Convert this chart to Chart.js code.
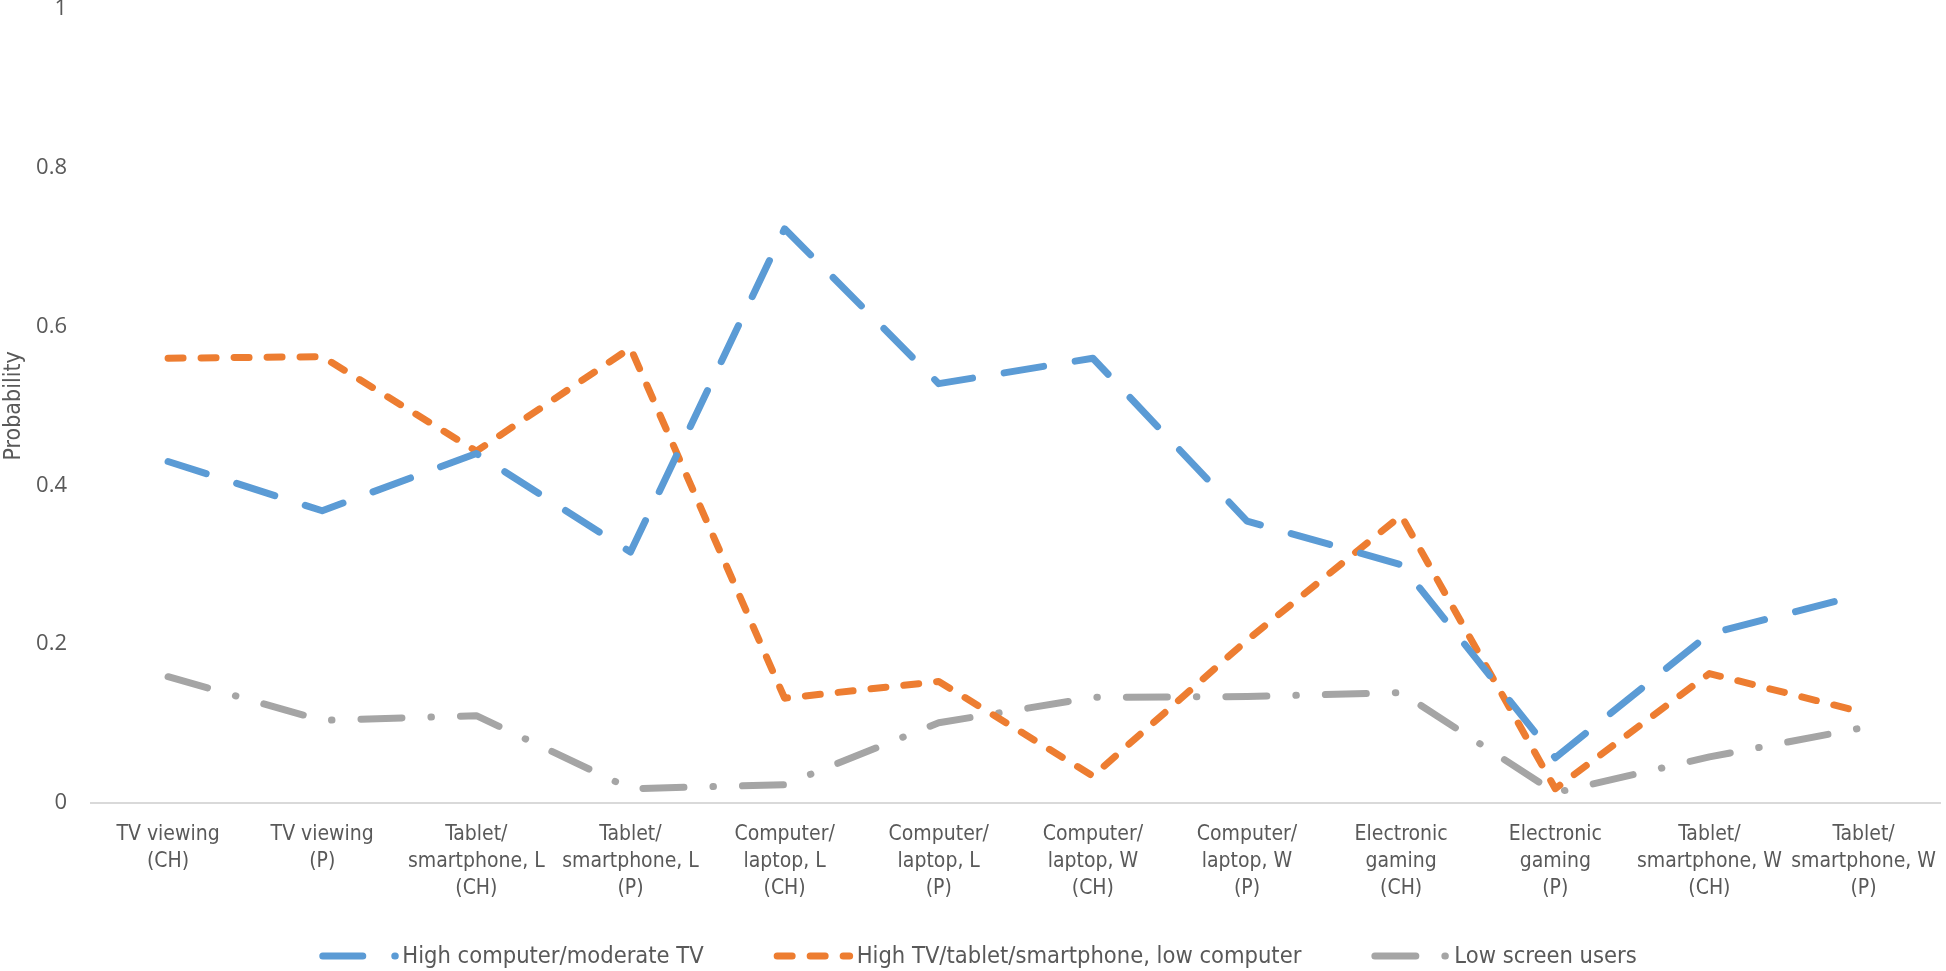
<!DOCTYPE html>
<html>
<head>
<meta charset="utf-8">
<script src="https://cdn.jsdelivr.net/npm/chart.js@4.4.1/dist/chart.umd.min.js"></script>
<style>
  html, body { margin: 0; padding: 0; background: #ffffff; }
  #wrap { width: 1946px; height: 971px; }
</style>
</head>
<body>
<div id="wrap"><canvas id="probChart" width="1946" height="971"></canvas></div>
<script>
// categories along the x axis (multi-line labels)
const categories = [
    ['TV viewing', '(CH)'],
    ['TV viewing', '(P)'],
    ['Tablet/', 'smartphone, L', '(CH)'],
    ['Tablet/', 'smartphone, L', '(P)'],
    ['Computer/', 'laptop, L', '(CH)'],
    ['Computer/', 'laptop, L', '(P)'],
    ['Computer/', 'laptop, W', '(CH)'],
    ['Computer/', 'laptop, W', '(P)'],
    ['Electronic', 'gaming', '(CH)'],
    ['Electronic', 'gaming', '(P)'],
    ['Tablet/', 'smartphone, W', '(CH)'],
    ['Tablet/', 'smartphone, W', '(P)']
];

const seriesNames = [
    'High computer/moderate TV',
    'High TV/tablet/smartphone, low computer',
    'Low screen users'
];

const highComputer = [0.43, 0.368, 0.44, 0.316, 0.723, 0.528, 0.56, 0.355, 0.30, 0.057, 0.213, 0.263];
const highTvTablet = [0.56, 0.562, 0.443, 0.573, 0.132, 0.153, 0.034, 0.205, 0.362, 0.018, 0.163, 0.114];
const lowScreen = [0.159, 0.104, 0.11, 0.018, 0.023, 0.101, 0.133, 0.134, 0.139, 0.013, 0.058, 0.095];

const yTicks = [0, 0.2, 0.4, 0.6, 0.8, 1];

const textColor = '#595959';
const narrowFont = '"Liberation Sans Narrow", "DejaVu Sans Condensed", sans-serif';

// legend drawn like the Excel one: line sample with the dash pattern, then text
const excelLegend = {
    id: 'excelLegend',
    afterDraw(chart) {
        const ctx = chart.ctx;
        const y = 956;
        const textOffset = 83, gapItem = 70;
        ctx.save();
        ctx.font = '23.5px ' + narrowFont;
        const items = chart.data.datasets.map(ds => ({ ds: ds, w: ctx.measureText(ds.label).width }));
        const total = items.reduce((s, it) => s + textOffset + it.w, 0) + gapItem * (items.length - 1);
        let x = (chart.width - total) / 2 + 5;
        items.forEach(it => {
            ctx.strokeStyle = it.ds.borderColor;
            ctx.lineWidth = it.ds.borderWidth;
            ctx.lineCap = 'round';
            ctx.setLineDash(it.ds.borderDash);
            ctx.beginPath();
            ctx.moveTo(x + 3.5, y);
            ctx.lineTo(x + 76, y);
            ctx.stroke();
            ctx.setLineDash([]);
            ctx.fillStyle = textColor;
            ctx.textBaseline = 'middle';
            ctx.textAlign = 'left';
            ctx.fillText(it.ds.label, x + textOffset, y + 1);
            x += textOffset + it.w + gapItem;
        });
        ctx.restore();
    }
};

document.addEventListener('DOMContentLoaded', function () {
    const ctx = document.getElementById('probChart').getContext('2d');
    const lineStyle = {
        borderWidth: 7,
        borderCapStyle: 'round',
        borderJoinStyle: 'round',
        pointRadius: 0,
        pointHoverRadius: 0,
        tension: 0,
        fill: false
    };
    new Chart(ctx, {
        type: 'line',
        data: {
            labels: categories,
            datasets: [
                Object.assign({
                    label: seriesNames[0],
                    data: highComputer,
                    borderColor: '#5B9BD5',
                    borderDash: [40, 32]
                }, lineStyle),
                Object.assign({
                    label: seriesNames[1],
                    data: highTvTablet,
                    borderColor: '#ED7D31',
                    borderDash: [15, 18]
                }, lineStyle),
                Object.assign({
                    label: seriesNames[2],
                    data: lowScreen,
                    borderColor: '#A5A5A5',
                    borderDash: [41, 29, 0.5, 29]
                }, lineStyle)
            ]
        },
        options: {
            responsive: false,
            animation: false,
            layout: { padding: { top: 0, right: 1, bottom: 0, left: 0 } },
            plugins: {
                legend: { display: false },
                tooltip: { enabled: false }
            },
            scales: {
                x: {
                    type: 'category',
                    offset: true,
                    grid: { display: false },
                    border: { display: true, color: '#D9D9D9', width: 2 },
                    ticks: {
                        autoSkip: false,
                        maxRotation: 0,
                        minRotation: 0,
                        padding: 10,
                        color: textColor,
                        font: { family: narrowFont, size: 21, lineHeight: 1.29 }
                    },
                    afterFit: function (scale) { scale.height = 168; }
                },
                y: {
                    min: 0,
                    max: 1,
                    afterBuildTicks: function (scale) {
                        scale.ticks = yTicks.map(v => ({ value: v }));
                    },
                    // tick length keeps the labels off the plot; no tick padding so the top stays tight
                    grid: { display: false, drawTicks: true, tickLength: 24 },
                    border: { display: false },
                    ticks: {
                        padding: 0,
                        color: textColor,
                        font: { family: '"Open Sans", sans-serif', size: 22, lineHeight: 0.8 },
                        callback: function (v) { return String(Math.round(v * 10) / 10); }
                    },
                    title: {
                        display: true,
                        text: 'Probability',
                        color: textColor,
                        padding: { top: 0, bottom: 0 },
                        font: { family: narrowFont, size: 23 }
                    },
                    afterFit: function (scale) { scale.width = 91; }
                }
            }
        },
        plugins: [excelLegend]
    });
});
</script>
</body>
</html>
